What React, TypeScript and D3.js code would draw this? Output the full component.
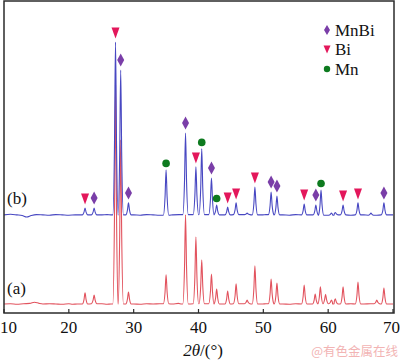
import React from 'react';
import * as d3 from 'd3';

// 2θ tick values
const xTicks = [10, 20, 30, 40, 50, 60, 70];

// (a) pattern: baseline readings and peak tips [2θ, intensity a.u.]
const baseA: [number, number][] = [
  [10, 30], [11, 31], [12, 29], [13, 31], [14, 32], [14.7, 36], [15.4, 32], [16, 30],
  [17, 31], [18, 30], [19, 29], [20, 31], [20.6, 29], [21.3, 30], [25.1, 31], [25.9, 29],
  [26.5, 30], [30, 30], [31, 29], [32, 31], [33, 30], [34, 31], [36, 30], [36.9, 32],
  [37.4, 30], [41.3, 31], [43.6, 30], [47, 31], [49.9, 30], [50.4, 31], [53, 30], [54, 29],
  [55, 31], [57, 30], [59.9, 31], [61.7, 30], [63.5, 31], [65.5, 30], [66.5, 31], [69.5, 30],
  [70, 30],
];
const peaksA: [number, number][] = [
  [22.5, 67], [23.9, 60], [27.2, 760], [28.0, 577], [29.2, 70], [35.0, 127], [38.0, 327],
  [39.6, 253], [40.5, 177], [42.0, 130], [42.8, 80], [44.5, 73], [45.8, 97], [47.5, 43],
  [48.7, 157], [51.2, 113], [52.1, 100], [56.3, 93], [58.0, 63], [58.8, 87], [59.6, 62],
  [60.5, 43], [61.1, 47], [62.3, 87], [64.6, 103], [67.5, 43], [68.6, 83],
];

// (b) pattern, drawn with a vertical offset
const offsetB = 300;
const baseB: [number, number][] = [
  [10, 27], [11, 29], [12, 27], [12.8, 25], [13.5, 20], [14.2, 25], [15, 28], [16, 27],
  [17, 26], [18, 28], [19, 27], [20, 26], [21, 27], [25.1, 27], [25.9, 28], [26.5, 27],
  [30, 27], [31, 26], [32, 28], [33, 27], [34, 26], [36, 27], [37, 28], [41.3, 28],
  [43.6, 27], [47, 28], [49.9, 27], [50.4, 28], [53, 27], [54, 26], [55, 28], [57, 27],
  [59.8, 26], [61.5, 27], [63.5, 26], [65.5, 27], [67.5, 26], [69.5, 27], [70, 27],
];
const peaksB: [number, number][] = [
  [22.5, 50], [23.9, 50], [27.2, 603], [28.0, 510], [29.2, 67], [35.0, 177], [38.0, 300],
  [39.6, 187], [40.5, 247], [42.0, 150], [42.8, 60], [44.5, 53], [45.8, 67], [47.5, 33],
  [48.7, 120], [51.2, 103], [52.1, 90], [56.3, 63], [58.1, 60], [58.9, 110], [60.5, 33],
  [61.1, 35], [62.3, 60], [64.6, 67], [66.6, 33], [68.6, 67],
];

// phase markers on pattern (b)
const mnbiPeaks = [23.9, 28.0, 29.2, 38.0, 42.0, 51.2, 52.1, 58.1, 68.6];
const biPeaks = [22.5, 27.2, 39.6, 44.5, 45.8, 48.7, 56.3, 62.3, 64.6];
const mnPeaks = [35.0, 40.5, 42.8, 58.9];

const legendItems = ['MnBi', 'Bi', 'Mn'];

const W = 400;
const H = 362;
const serif: React.CSSProperties = { fontFamily: '"Liberation Serif", "DejaVu Serif", serif', fontSize: '17px' };
const C_MNBI = '#7a3ea8';
const C_BI = '#e3175b';
const C_MN = '#0d7a1f';

const x = d3.scaleLinear().domain([10, 70]).range([4, 393]);
const y = d3.scaleLinear().domain([0, 1040]).range([313, 1]);

// build the vertex list of a pattern: baseline + peaks with feet
function buildPattern(base: [number, number][], peaks: [number, number][], off: number) {
  const pts: [number, number][] = [];
  base.forEach(([t, v]) => {
    if (peaks.every(([p]) => Math.abs(p - t) > 0.5)) pts.push([t, v]);
  });
  const baseAt = (t: number) => {
    let best = base[0];
    base.forEach((b) => { if (Math.abs(b[0] - t) < Math.abs(best[0] - t)) best = b; });
    return best[1];
  };
  peaks.forEach(([p, h]) => {
    const b = baseAt(p);
    pts.push(
      [p - 0.42, b],
      [p - 0.16, b + (h - b) * 0.4],
      [p, h],
      [p + 0.16, b + (h - b) * 0.4],
      [p + 0.42, b],
    );
  });
  pts.sort((a, c) => a[0] - c[0]);
  return pts.map(([t, v]) => [t, v + off] as [number, number]);
}

const line = d3.line<[number, number]>()
  .x((d) => x(d[0]))
  .y((d) => y(d[1]))
  .curve(d3.curveMonotoneX);

const diamond = (cx: number, cy: number, w: number, h: number) =>
  `M${cx},${cy - h / 2}L${cx + w / 2},${cy}L${cx},${cy + h / 2}L${cx - w / 2},${cy}Z`;
const triDown = (cx: number, cy: number, w: number, h: number) =>
  `M${cx - w / 2},${cy - h / 2}L${cx + w / 2},${cy - h / 2}L${cx},${cy + h / 2}Z`;

const App: React.FC = () => {
  const dataA = buildPattern(baseA, peaksA, 0);
  const dataB = buildPattern(baseB, peaksB, offsetB);
  const tipB = (t: number) => {
    const pk = peaksB.find((p) => Math.abs(p[0] - t) < 0.05);
    return y((pk ? pk[1] : 30) + offsetB);
  };

  return (
    <svg width={W} height={H} style={{ position: 'absolute', left: 0, top: 0, background: '#fff' }}>
      <path d={line(dataA) || ''} fill="none" stroke="#e2535e" strokeWidth={1.1} />
      <path d={line(dataB) || ''} fill="none" stroke="#4848c2" strokeWidth={1.1} />

      {biPeaks.map((t) => (
        <path key={'bi' + t} d={triDown(x(t), tipB(t) - 9, 8, 11)} fill={C_BI} />
      ))}
      {mnbiPeaks.map((t) => (
        <path key={'mb' + t} d={diamond(x(t), tipB(t) - 10, 7, 13)} fill={C_MNBI} />
      ))}
      {mnPeaks.map((t) => (
        <circle key={'mn' + t} cx={x(t)} cy={tipB(t) - 6.5} r={3.8} fill={C_MN} />
      ))}

      {/* frame */}
      <rect x={4} y={1} width={390} height={312} fill="none" stroke="#2b2b2b" strokeWidth={1.5} />
      {xTicks.map((t) => (
        <g key={t}>
          <line x1={x(t)} x2={x(t)} y1={313} y2={309} stroke="#2b2b2b" strokeWidth={1.2} />
          <text
            x={t === 10 ? 0 : t === 70 ? 400 : x(t)}
            y={333}
            textAnchor={t === 10 ? 'start' : t === 70 ? 'end' : 'middle'}
            style={serif}
            fill="#111"
          >
            {t}
          </text>
        </g>
      ))}
      <text x={203} y={356} textAnchor="middle" style={serif} fill="#111">
        <tspan fontStyle="italic">2θ</tspan>/(°)
      </text>

      <text x={7} y={204} style={serif} fill="#111">(b)</text>
      <text x={7} y={294} style={serif} fill="#111">(a)</text>

      {/* legend */}
      {legendItems.map((name, i) => {
        const cy = 30 + i * 19.5;
        return (
          <g key={name}>
            {i === 0 && <path d={diamond(327, cy, 6, 10)} fill={C_MNBI} />}
            {i === 1 && <path d={triDown(327, cy, 7, 8)} fill={C_BI} />}
            {i === 2 && <circle cx={327} cy={cy} r={3.2} fill={C_MN} />}
            <text x={335} y={cy + 5.5} style={serif} fill="#111">{name}</text>
          </g>
        );
      })}

      <text x={398} y={356} textAnchor="end" style={{ fontFamily: '"Noto Sans CJK SC", sans-serif', fontSize: '12.5px' }} fill="#f2b4b4">
        @有色金属在线
      </text>
    </svg>
  );
};

export default App;
